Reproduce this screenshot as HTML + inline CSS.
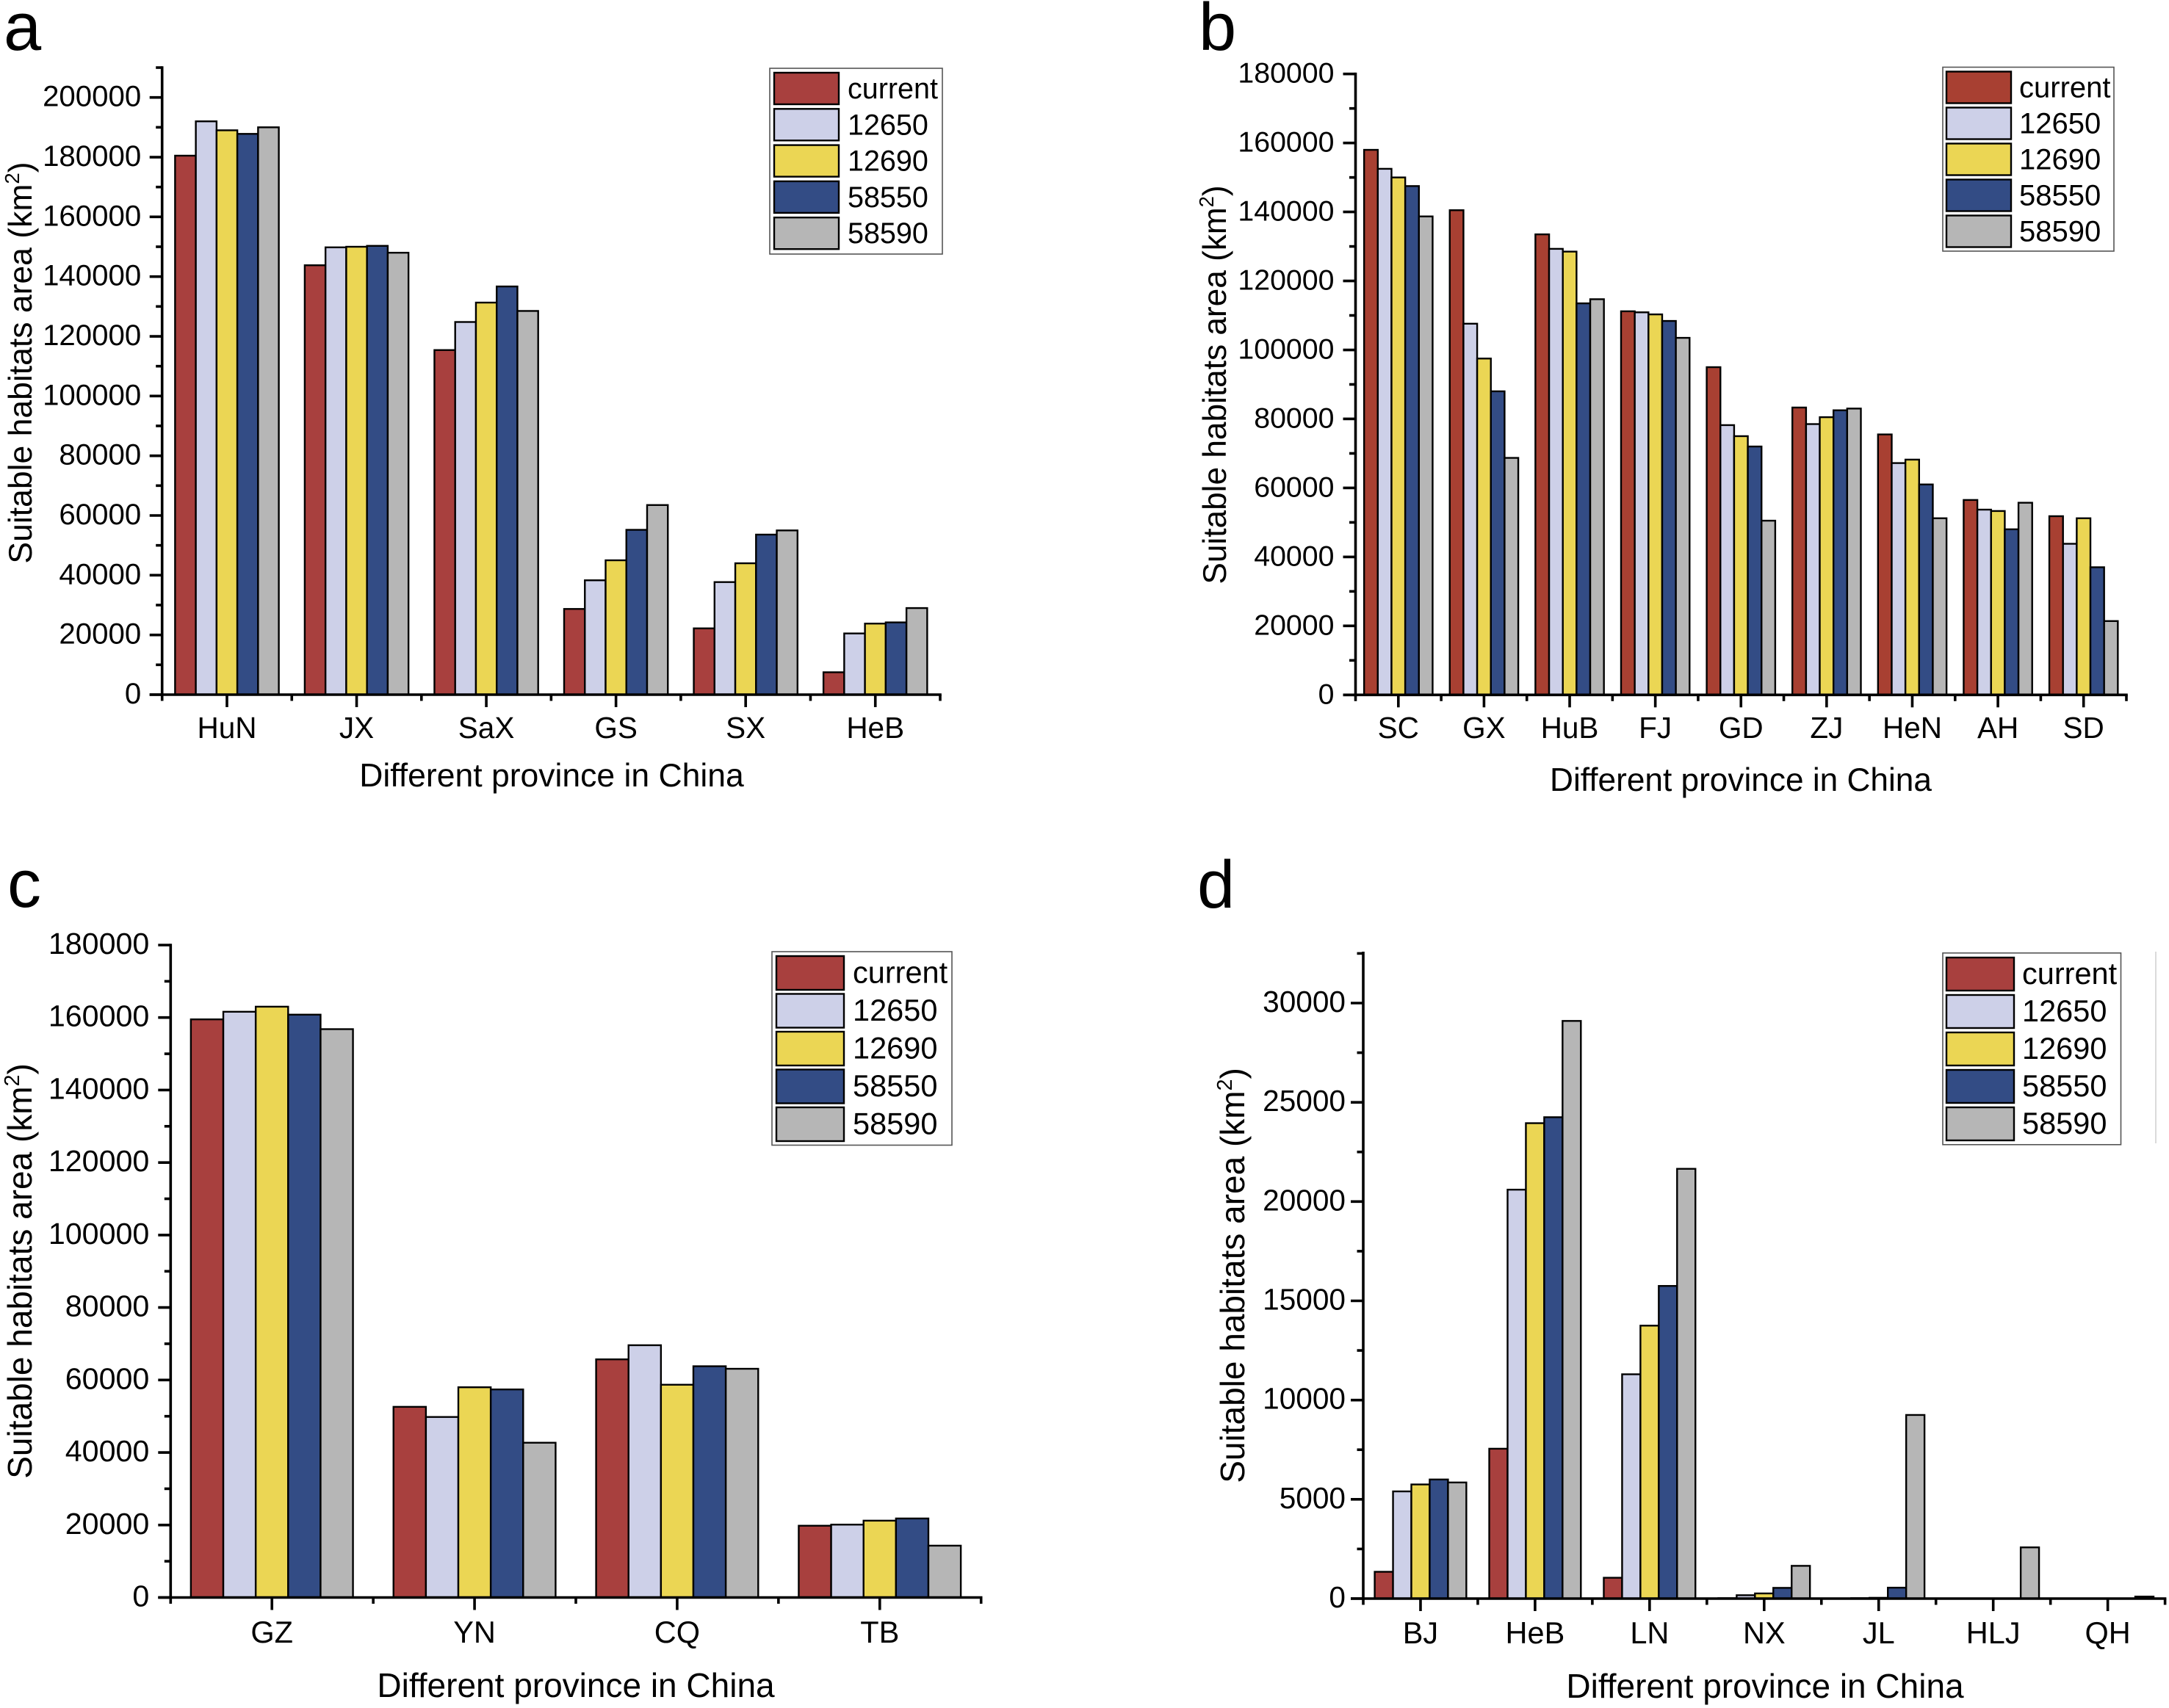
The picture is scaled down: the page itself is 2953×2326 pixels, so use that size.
<!DOCTYPE html>
<html lang="en">
<head>
<meta charset="utf-8">
<title>Suitable habitats area by province</title>
<style>
html,body{margin:0;padding:0;background:#fff;}
svg{display:block;}
text{font-family:"Liberation Sans",Arial,sans-serif;fill:#000;}
</style>
</head>
<body>
<svg id="figure" xmlns="http://www.w3.org/2000/svg" width="2953" height="2326" viewBox="0 0 2953 2326">
<rect x="0" y="0" width="2953" height="2326" fill="#ffffff"/>
<line x1="2935" y1="1296" x2="2935" y2="1557" stroke="#cfcfcf" stroke-width="1.5"/>
</svg>
<script>
const seriesNames = ['current','12650','12690','58550','58590'];
const seriesColors = ['#A8403E','#CDD0E8','#EBD654','#334C85','#B6B6B6'];

const catsA = ['HuN','JX','SaX','GS','SX','HeB'];
const currentA = [180500,143800,115400,28700,22200,7500];
const s12650A = [192000,149800,124800,38300,37700,20500];
const s12690A = [189000,150000,131300,45000,44000,23800];
const s58550A = [187800,150300,136700,55200,53600,24200];
const s58590A = [190000,148000,128500,63500,55000,29000];
const ticksA = [0,20000,40000,60000,80000,100000,120000,140000,160000,180000,200000];

const catsB = ['SC','GX','HuB','FJ','GD','ZJ','HeN','AH','SD'];
const currentB = [158000,140500,133500,111200,95000,83300,75500,56500,51800];
const s12650B = [152500,107600,129300,110900,78200,78500,67200,53700,43800];
const s12690B = [150000,97500,128500,110300,75000,80500,68200,53300,51200];
const s58550B = [147500,88000,113500,108400,72000,82500,61000,48000,37000];
const s58590B = [138700,68700,114700,103500,50500,83000,51200,55700,21400];
const ticksB = [0,20000,40000,60000,80000,100000,120000,140000,160000,180000];

const catsC = ['GZ','YN','CQ','TB'];
const currentC = [159500,52600,65700,19800];
const s12650C = [161600,49800,69600,20100];
const s12690C = [163000,58000,58700,21200];
const s58550C = [160800,57400,63800,21800];
const s58590C = [156800,42700,63100,14300];
const ticksC = [0,20000,40000,60000,80000,100000,120000,140000,160000,180000];

const catsD = ['BJ','HeB','LN','NX','JL','HLJ','QH'];
const currentD = [1350,7550,1050,20,10,0,0];
const s12650D = [5400,20600,11300,170,20,0,0];
const s12690D = [5750,23950,13750,260,40,0,0];
const s58550D = [6000,24250,15750,540,550,0,10];
const s58590D = [5850,29100,21650,1650,9250,2580,100];
const ticksD = [0,5000,10000,15000,20000,25000,30000];

const NS = 'http://www.w3.org/2000/svg';
const svg = document.getElementById('figure');

function make(tag, attrs, parent, txt) {
  const el = document.createElementNS(NS, tag);
  for (const k in attrs) el.setAttribute(k, attrs[k]);
  if (txt !== undefined) el.textContent = txt;
  parent.appendChild(el);
  return el;
}

function drawPanel(p) {
  const g = make('g', {}, svg);
  
  

  const k = (p.y0 - p.yRef) / p.refVal;
  const yOf = v => p.y0 - v * k;
  const catW = (p.x1 - p.x0) / p.cats.length;
  const groupW = catW * 0.8;
  const barW = groupW / seriesNames.length;
  const xOf = (c, s) => p.x0 + catW * c + catW * 0.1 + barW * s;

  const letter = make('text', {x: p.letterX, y: p.letterY, 'font-size': 92}, g, p.letter);
  
  

  p.values.forEach((vals, s) => {
    vals.forEach((v, c) => {
      const r = make('rect', {
        x: xOf(c, s), y: yOf(v), width: barW, height: p.y0 - yOf(v),
        fill: p.colors ? p.colors[s] : seriesColors[s], stroke: '#000', 'stroke-width': 2.4
      }, g);
      
      
    });
  });

  const axisAttrs = {stroke: '#000', 'stroke-width': 3.6, 'stroke-linecap': 'butt'};

  const yAxis = make('line', Object.assign({x1: p.x0, x2: p.x0, y1: p.yTop - 1.8, y2: p.y0 + 1.8}, axisAttrs), g);
  
  

  const xAxis = make('line', Object.assign({x1: p.x0 - 17, x2: p.x1 + 1.8, y1: p.y0, y2: p.y0}, axisAttrs), g);
  
  

  const step = p.ticks[1] - p.ticks[0];
  const topVal = (p.y0 - p.yTop) / k;
  p.ticks.forEach(t => {
    const tick = make('line', Object.assign({x1: p.x0 - 17, x2: p.x0, y1: yOf(t), y2: yOf(t)}, axisAttrs), g);
    
    
    const lab = make('text', {x: p.x0 - p.labelGap, y: yOf(t) + 12, 'text-anchor': 'end', 'font-size': p.tickFont}, g, String(t));
    
    
    const mv = t + step / 2;
    if (mv <= topVal + 1) {
      const minor = make('line', Object.assign({x1: p.x0 - 8.5, x2: p.x0, y1: yOf(mv), y2: yOf(mv)}, axisAttrs), g);
      
      
    }
  });

  for (let c = 0; c <= p.cats.length; c++) {
    const bx = p.x0 + catW * c;
    const minor = make('line', Object.assign({x1: bx, x2: bx, y1: p.y0, y2: p.y0 + 8.5}, axisAttrs), g);
    
    
    if (c < p.cats.length) {
      const cx = bx + catW / 2;
      const major = make('line', Object.assign({x1: cx, x2: cx, y1: p.y0, y2: p.y0 + 17}, axisAttrs), g);
      
      
      const lab = make('text', {x: cx, y: p.xLabY, 'text-anchor': 'middle', 'font-size': p.xFont}, g, p.cats[c]);
      
      
    }
  }

  const xt = make('text', {x: p.xTitleX, y: p.xTitleY, 'text-anchor': 'middle', 'font-size': p.titleFont}, g, 'Different province in China');
  
  

  const yt = make('text', {
    transform: 'translate(' + p.yTitleX + ',' + p.yTitleY + ') rotate(-90)',
    'text-anchor': 'middle', 'font-size': p.titleFont
  }, g);
  
  
  make('tspan', {}, yt, 'Suitable habitats area (km');
  make('tspan', {dy: -17, 'font-size': p.titleFont * 0.62}, yt, '2');
  make('tspan', {dy: 17}, yt, ')');

  const lg = make('g', {}, g);
  
  
  const L = p.legend;
  const box = make('rect', {x: L.x, y: L.y, width: L.w, height: L.h, fill: '#fff', stroke: '#555', 'stroke-width': 1.6}, lg);
  
  
  seriesNames.forEach((name, i) => {
    const sw = make('rect', {
      x: L.swX, y: L.swY + L.step * i, width: L.swW, height: L.swH,
      fill: p.colors ? p.colors[i] : seriesColors[i], stroke: '#000', 'stroke-width': 2.4
    }, lg);
    
    
    const tx = make('text', {
      x: L.tX,
      y: L.swY + L.step * i + L.swH / 2 + 13.5,
      'font-size': L.font
    }, lg, name);
    
    
  });
}

drawPanel({
  letter: 'a', letterX: 5, letterY: 68,
  cats: catsA, values: [currentA, s12650A, s12690A, s58550A, s58590A], ticks: ticksA,
  x0: 220.7, x1: 1280, y0: 946, yRef: 132.7, refVal: 200000, yTop: 92,
  tickFont: 40.2, xFont: 40.5, labelGap: 28.5, titleFont: 44.5, xLabY: 1005, xTitleX: 751, xTitleY: 1071, yTitleX: 43, yTitleY: 494,
  legend: {x: 1048, y: 93, w: 235, h: 253, swX: 1054, swY: 99, swW: 88, swH: 43, step: 49.3, tX: 1154, font: 39.5}
});

drawPanel({
  letter: 'b', letterX: 1632, letterY: 68,
  colors: ['#A84032','#CDD0E8','#EBD654','#334C85','#B6B6B6'],
  cats: catsB, values: [currentB, s12650B, s12690B, s58550B, s58590B], ticks: ticksB,
  x0: 1845.5, x1: 2895, y0: 946.3, yRef: 100.7, refVal: 180000, yTop: 100.7,
  tickFont: 39.3, xFont: 40.5, labelGap: 29, titleFont: 44.2, xLabY: 1005, xTitleX: 2370, xTitleY: 1077, yTitleX: 1669, yTitleY: 524,
  legend: {x: 2645, y: 91.5, w: 233, h: 250.5, swX: 2650, swY: 97.5, swW: 88, swH: 43, step: 49, tX: 2749, font: 40}
});

drawPanel({
  letter: 'c', letterX: 10, letterY: 1235,
  cats: catsC, values: [currentC, s12650C, s12690C, s58550C, s58590C], ticks: ticksC,
  x0: 232.3, x1: 1335.7, y0: 2175.5, yRef: 1287, refVal: 180000, yTop: 1287,
  tickFont: 41.2, xFont: 41.5, labelGap: 29, titleFont: 46, xLabY: 2237, xTitleX: 784, xTitleY: 2311, yTitleX: 43, yTitleY: 1731,
  legend: {x: 1051, y: 1296, w: 245, h: 263.5, swX: 1057, swY: 1302, swW: 92, swH: 46, step: 51.5, tX: 1161, font: 41.5}
});

drawPanel({
  letter: 'd', letterX: 1630, letterY: 1236,
  cats: catsD, values: [currentD, s12650D, s12690D, s58550D, s58590D], ticks: ticksD,
  x0: 1856, x1: 2947.6, y0: 2177, yRef: 1366, refVal: 30000, yTop: 1297.8,
  tickFont: 40.6, xFont: 41.5, labelGap: 24, titleFont: 46, xLabY: 2238, xTitleX: 2403, xTitleY: 2312, yTitleX: 1694, yTitleY: 1737,
  legend: {x: 2645, y: 1297.8, w: 242.5, h: 261, swX: 2650, swY: 1304, swW: 92, swH: 45, step: 51, tX: 2753, font: 41.5}
});
</script>
</body>
</html>
